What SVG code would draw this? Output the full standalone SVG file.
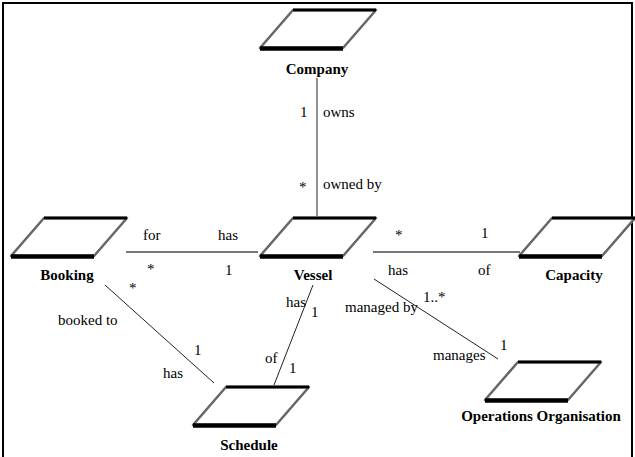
<svg xmlns="http://www.w3.org/2000/svg" xmlns:xlink="http://www.w3.org/1999/xlink" width="635" height="457" viewBox="0 0 635 457">
  <style>
    text { font-family: Liberation Serif, serif; font-size: 15px; fill: #000; }
    .name { font-weight: bold; text-anchor: middle; }
    .link { stroke: #222; stroke-width: 1; fill: none; }
    .flat { stroke: #777; stroke-width: 2; fill: none; }
    .frame { stroke: #000; stroke-width: 2; fill: none; }
  </style>
  <defs>
    <!-- slanted plate used for every entity -->
    <g id="plate">
      <polygon points="33,0 116,0 83,38 0,38" fill="#fff" stroke="#666" stroke-width="2.5" stroke-linejoin="round"/>
      <line x1="33" y1="0" x2="116" y2="0" stroke="#000" stroke-width="3"/>
      <line x1="0" y1="38.5" x2="83" y2="38.5" stroke="#000" stroke-width="4.5"/>
    </g>
  </defs>

  <rect width="635" height="457" fill="#fff"/>
  <!-- page frame (open at the bottom) -->
  <path class="frame" d="M3,460 V3 H632 V460"/>

  <g id="connectors">
    <line class="link" x1="317" y1="78" x2="317" y2="216" stroke="#444"/>
    <line class="flat" x1="126" y1="252" x2="258" y2="252"/>
    <line class="flat" x1="373" y1="252" x2="520" y2="252"/>
    <line class="link" x1="105" y1="285" x2="214" y2="383"/>
    <line class="link" x1="313" y1="285" x2="274" y2="385"/>
    <line class="link" x1="374" y1="279" x2="498" y2="359"/>

    <text x="300" y="117">1</text>
    <text x="323" y="117">owns</text>
    <text x="299" y="192">*</text>
    <text x="323" y="189">owned by</text>

    <text x="143" y="240">for</text>
    <text x="218" y="240">has</text>
    <text x="147" y="274">*</text>
    <text x="225" y="275">1</text>

    <text x="395" y="240">*</text>
    <text x="481" y="238">1</text>
    <text x="388" y="275">has</text>
    <text x="478" y="275">of</text>

    <text x="129" y="293">*</text>
    <text x="58" y="325">booked to</text>
    <text x="194" y="355">1</text>
    <text x="163" y="378">has</text>

    <text x="286" y="307">has</text>
    <text x="311" y="317">1</text>
    <text x="265" y="363">of</text>
    <text x="289" y="373">1</text>

    <text x="423" y="302">1..*</text>
    <text x="345" y="312">managed by</text>
    <text x="500" y="350">1</text>
    <text x="433" y="360">manages</text>
  </g>

  <g id="company">
    <use xlink:href="#plate" x="260" y="10"/>
    <text class="name" x="317" y="74">Company</text>
  </g>
  <g id="booking">
    <use xlink:href="#plate" x="11" y="218"/>
    <text class="name" x="67" y="280">Booking</text>
  </g>
  <g id="vessel">
    <use xlink:href="#plate" x="260" y="218"/>
    <text class="name" x="313" y="280">Vessel</text>
  </g>
  <g id="capacity">
    <use xlink:href="#plate" x="519" y="218"/>
    <text class="name" x="574" y="280">Capacity</text>
  </g>
  <g id="schedule">
    <use xlink:href="#plate" x="193" y="387"/>
    <text class="name" x="249" y="450">Schedule</text>
  </g>
  <g id="operations-organisation">
    <use xlink:href="#plate" x="485" y="362"/>
    <text class="name" x="541" y="421">Operations Organisation</text>
  </g>
</svg>
